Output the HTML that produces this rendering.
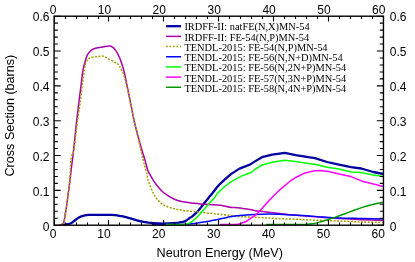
<!DOCTYPE html><html><head><meta charset="utf-8"><style>html,body{margin:0;padding:0;background:#fff;overflow:hidden}body{width:415px;height:262px;position:relative}</style></head><body><svg width="415" height="262" viewBox="0 0 415 262" style="position:absolute;left:0;top:0;will-change:transform">
<rect width="415" height="262" fill="#fff"/>
<clipPath id="c"><rect x="54.1" y="16.2" width="329.34999999999997" height="209.0"/></clipPath>
<g clip-path="url(#c)" fill="none" stroke-linejoin="round" stroke-linecap="butt">
<path d="M62.5,225.2 C62.8,225.1 63.2,225.1 64.5,224.8 C65.8,224.5 68.7,224.1 70.3,223.5 C71.9,222.9 72.7,222.0 74.1,221.0 C75.5,220.0 77.3,218.5 78.9,217.6 C80.5,216.7 81.8,216.1 83.6,215.7 C85.3,215.2 85.8,215.0 89.4,214.9 C93.0,214.8 101.2,214.9 105.0,214.9 C108.8,214.9 110.2,214.9 112.0,214.9 C113.8,215.0 114.7,215.1 116.0,215.2 C117.3,215.3 118.3,215.6 119.6,215.8 C120.9,216.1 122.4,216.3 124.0,216.7 C125.6,217.1 126.8,217.4 129.3,218.1 C131.8,218.8 135.7,220.0 138.9,220.8 C142.1,221.6 145.4,222.2 148.6,222.7 C151.8,223.1 155.0,223.4 158.2,223.5 C161.4,223.6 164.6,223.6 167.8,223.5 C171.0,223.4 175.3,223.1 177.5,222.9 C179.7,222.7 179.7,222.5 181.0,222.2 C182.3,221.9 184.0,221.7 185.5,220.9 C187.0,220.2 189.0,218.4 190.0,217.7 C191.0,217.0 190.4,217.8 191.6,216.8 C192.8,215.8 195.5,213.8 197.4,211.7 C199.3,209.6 201.3,206.9 203.2,204.5 C205.1,202.1 207.5,199.0 209.0,197.2 C210.5,195.4 210.6,195.5 212.0,193.8 C213.4,192.1 215.2,189.3 217.2,187.0 C219.2,184.7 222.9,181.2 224.1,180.1 L230.9,174.1 L239.5,168.6 L249.9,164.6 L255.0,161.4 L262.0,157.2 L272.2,154.7 L284.8,152.8 L295.7,155.2 L308.2,157.2 L315.0,158.1 L327.0,162.0 L339.0,164.6 L351.0,167.2 L361.3,168.5 L373.3,172.0 L383.4,174.0" stroke="#0000a0" stroke-width="2.3"/>
<path d="M59.5,225.2 C59.7,225.1 60.0,225.2 60.7,224.8 C61.4,224.4 62.9,224.3 63.6,222.9 C64.3,221.5 64.4,219.0 64.9,216.3 C65.4,213.6 66.0,210.2 66.5,206.7 C67.0,203.2 67.5,198.9 68.0,195.3 C68.5,191.7 68.9,189.3 69.4,185.0 C69.9,180.7 70.5,175.5 71.2,169.6 C71.9,163.7 72.8,157.2 73.6,149.8 C74.4,142.4 75.4,132.5 76.2,125.0 C77.0,117.5 77.8,111.4 78.6,104.7 C79.4,98.0 80.4,90.6 81.1,84.8 C81.8,79.0 82.3,73.9 83.0,70.1 C83.7,66.2 84.4,64.2 85.1,61.7 C85.8,59.2 86.4,56.9 87.3,55.2 C88.2,53.5 89.1,52.4 90.2,51.3 C91.3,50.2 92.0,49.4 93.8,48.7 C95.6,48.0 98.3,47.6 101.0,47.2 C103.7,46.8 107.8,46.1 109.7,46.1 C111.6,46.1 111.6,46.5 112.6,47.2 C113.6,47.9 114.5,48.8 115.5,50.1 C116.5,51.4 117.6,53.6 118.4,55.2 C119.2,56.9 119.6,57.5 120.5,60.0 C121.4,62.5 122.6,65.8 123.7,69.9 C124.8,74.0 125.9,79.8 126.9,84.8 C127.9,89.8 129.0,95.2 129.9,99.7 C130.8,104.2 131.6,108.3 132.4,112.1 C133.2,115.9 133.3,117.6 134.5,122.5 C135.7,127.4 137.8,135.5 139.5,141.7 C141.2,147.9 143.5,155.2 144.9,159.9 C146.3,164.6 146.8,167.4 147.7,170.0 C148.6,172.6 149.3,173.3 150.3,175.2 C151.3,177.1 152.7,179.4 153.8,181.2 C155.0,183.0 155.8,184.1 157.2,185.8 C158.6,187.5 160.6,189.9 162.3,191.5 C164.0,193.1 165.5,194.1 167.5,195.4 C169.5,196.7 171.8,198.1 174.4,199.2 C177.0,200.3 180.1,201.2 183.0,201.8 C185.9,202.4 188.8,202.7 191.6,203.0 C194.4,203.3 197.1,203.7 200.0,203.9 C202.9,204.2 205.6,204.3 209.0,204.5 C212.4,204.7 217.1,204.7 220.6,205.2 C224.1,205.7 226.8,206.8 230.0,207.3 C233.2,207.8 235.9,207.4 240.0,207.9 C244.1,208.5 249.7,209.7 254.5,210.4 C259.3,211.1 264.1,211.7 268.9,212.3 C273.7,212.9 278.2,213.4 283.4,214.0 C288.6,214.6 293.2,215.0 300.0,215.6 C306.8,216.2 317.2,217.0 323.9,217.5 C330.6,218.0 334.8,218.1 340.0,218.4 C345.2,218.7 351.2,219.0 355.0,219.2 C358.8,219.4 358.2,219.5 362.9,219.7 C367.6,219.9 380.0,220.4 383.4,220.5" stroke="#aa00aa" stroke-width="1.5"/>
<path d="M59.5,225.2 C59.7,225.1 60.0,225.2 60.7,224.8 C61.4,224.4 62.9,224.3 63.6,222.9 C64.3,221.5 64.4,219.0 64.9,216.3 C65.4,213.6 66.0,210.2 66.5,206.7 C67.0,203.2 67.5,198.9 68.0,195.3 C68.5,191.7 68.9,187.6 69.2,185.0 C69.5,182.4 69.7,182.1 69.9,179.5 C70.1,176.9 70.2,173.3 70.4,169.6 C70.6,165.9 70.6,160.5 71.2,157.2 C71.8,153.9 73.0,155.2 73.9,149.8 C74.9,144.4 75.9,132.5 76.9,125.0 C77.9,117.5 79.0,111.4 79.9,104.7 C80.8,98.0 81.7,90.6 82.4,84.8 C83.2,79.0 83.8,73.7 84.4,70.1 C85.0,66.5 85.2,64.9 85.8,63.1 C86.4,61.3 86.9,60.2 88.0,59.2 C89.1,58.2 90.6,57.7 92.3,57.3 C94.0,56.9 96.3,56.8 98.1,56.6 C99.9,56.4 101.5,55.8 103.2,56.2 C104.9,56.6 106.5,57.9 108.3,58.8 C110.1,59.7 112.5,60.9 114.0,61.7 C115.5,62.6 116.6,63.1 117.6,63.9 C118.6,64.7 119.1,65.7 119.8,66.7 C120.5,67.7 120.9,68.7 121.6,70.1 C122.2,71.5 122.9,72.7 123.7,74.9 C124.5,77.2 125.2,79.5 126.2,83.6 C127.2,87.7 128.9,95.0 129.9,99.7 C130.9,104.5 131.6,108.3 132.4,112.1 C133.2,115.9 133.3,117.3 134.5,122.5 C135.7,127.7 137.9,136.8 139.3,143.0 C140.7,149.2 142.0,155.4 143.1,159.9 C144.2,164.4 145.2,166.9 146.0,170.0 C146.8,173.1 147.0,175.9 147.7,178.6 C148.4,181.3 149.3,183.7 150.3,186.3 C151.3,188.9 152.7,191.9 153.8,194.1 C155.0,196.2 155.9,197.6 157.2,199.2 C158.5,200.8 160.1,202.3 161.5,203.5 C162.9,204.7 163.7,205.2 165.8,206.1 C168.0,207.0 171.5,208.0 174.4,208.7 C177.3,209.4 180.1,210.0 183.0,210.4 C185.9,210.8 189.3,211.1 191.6,211.3 C193.9,211.5 193.8,211.5 196.7,211.8 C199.6,212.1 203.4,212.6 209.0,213.2 C214.6,213.8 224.8,214.8 230.0,215.4 C235.2,216.0 235.9,216.3 240.0,216.6 C244.1,216.9 249.7,217.1 254.5,217.3 C259.3,217.6 264.1,217.8 268.9,218.1 C273.7,218.3 278.2,218.6 283.4,218.8 C288.6,219.0 295.6,219.2 300.0,219.4 C304.4,219.6 305.5,219.8 309.5,220.0 C313.5,220.2 318.8,220.3 323.9,220.5 C329.0,220.7 334.8,220.8 340.0,221.0 C345.2,221.2 351.2,221.5 355.0,221.7 C358.8,221.9 358.2,221.9 362.9,222.0 C367.6,222.1 380.0,222.4 383.4,222.5" stroke="#a0a000" stroke-width="1.5" stroke-dasharray="2.0,1.43"/>
<path d="M153.0,224.5 C157.5,224.5 174.3,224.5 180.0,224.4 C185.7,224.3 184.8,224.3 187.2,224.1 C189.6,223.9 190.9,223.9 194.5,223.4 C198.1,222.9 204.2,222.0 209.0,221.2 C213.8,220.3 220.0,219.0 223.5,218.3 C227.0,217.6 227.2,217.2 230.0,216.8 C232.8,216.4 235.9,216.0 240.0,215.6 C244.1,215.2 249.7,214.8 254.5,214.5 C259.3,214.2 264.1,214.0 268.9,214.0 C273.7,214.0 278.2,214.3 283.4,214.5 C288.6,214.7 295.6,215.2 300.0,215.4 C304.4,215.6 305.5,215.6 309.5,215.9 C313.5,216.2 319.1,216.8 323.9,217.1 C328.7,217.4 333.2,217.7 338.4,217.9 C343.6,218.1 350.9,218.2 355.0,218.3 C359.1,218.4 358.2,218.4 362.9,218.5 C367.6,218.6 380.0,218.9 383.4,219.0" stroke="#0000ff" stroke-width="1.5"/>
<path d="M166.0,224.5 C169.0,224.5 180.5,224.5 184.0,224.4 C187.5,224.3 185.9,224.2 187.2,223.8 C188.5,223.4 189.9,223.1 191.6,221.9 C193.3,220.7 195.5,218.7 197.4,216.8 C199.3,214.9 201.3,212.5 203.2,210.3 C205.1,208.1 207.1,206.0 209.0,203.8 C210.9,201.6 213.4,198.9 214.8,197.2 C216.2,195.5 215.6,195.5 217.2,193.8 C218.8,192.1 222.9,188.1 224.1,187.0 L230.9,181.8 L241.3,176.1 L251.6,172.3 L255.0,169.3 L262.0,165.0 L272.2,162.2 L284.8,160.2 L295.7,161.4 L308.2,163.5 L315.0,164.2 L327.0,167.2 L339.0,168.9 L351.0,172.0 L361.3,172.6 L373.3,174.9 L383.4,176.6" stroke="#00ff00" stroke-width="1.5"/>
<path d="M220.0,224.5 C222.7,224.5 232.7,224.5 236.0,224.4 C239.3,224.3 238.5,224.1 240.0,223.7 C241.5,223.3 243.3,222.8 245.0,222.0 C246.7,221.2 248.2,220.0 250.0,218.8 C251.8,217.6 254.0,216.3 256.0,214.6 C258.0,212.9 259.6,211.2 261.9,208.7 C264.2,206.2 266.8,203.0 269.8,199.8 C272.8,196.7 276.9,192.5 279.8,189.8 C282.7,187.1 285.5,185.2 287.1,183.8 C288.8,182.4 288.3,182.6 289.7,181.5 C291.1,180.4 294.6,178.2 295.6,177.5 L305.1,172.9 L314.5,170.8 L320.1,170.4 L328.7,171.4 L339.0,174.0 L351.0,176.6 L361.3,180.9 L373.3,184.0 L383.4,186.4" stroke="#ff00ff" stroke-width="1.5"/>
<path d="M266.0,224.5 C271.7,224.5 293.2,224.5 300.0,224.5 C306.8,224.5 304.3,224.5 306.6,224.3 C308.9,224.2 311.4,224.0 313.8,223.6 C316.2,223.2 318.6,222.4 321.0,221.7 C323.4,221.0 325.9,220.3 328.3,219.5 C330.7,218.7 333.1,217.9 335.5,217.1 C337.9,216.3 340.3,215.4 342.7,214.5 C345.1,213.6 347.8,212.7 349.9,211.9 C352.0,211.1 353.0,210.6 355.2,209.8 C357.4,209.0 360.3,207.9 362.9,207.1 C365.4,206.3 368.0,205.5 370.5,204.9 C373.0,204.3 376.0,203.8 378.1,203.3 C380.2,202.9 382.5,202.4 383.4,202.2" stroke="#009900" stroke-width="1.5"/>
</g>
<path d="M54.50,225.2v-5.2M54.50,16.2v5.2M65.50,225.2v-2.8M65.50,16.2v2.8M76.50,225.2v-2.8M76.50,16.2v2.8M87.50,225.2v-2.8M87.50,16.2v2.8M98.50,225.2v-2.8M98.50,16.2v2.8M108.50,225.2v-5.2M108.50,16.2v5.2M119.50,225.2v-2.8M119.50,16.2v2.8M130.50,225.2v-2.8M130.50,16.2v2.8M141.50,225.2v-2.8M141.50,16.2v2.8M152.50,225.2v-2.8M152.50,16.2v2.8M163.50,225.2v-5.2M163.50,16.2v5.2M174.50,225.2v-2.8M174.50,16.2v2.8M185.50,225.2v-2.8M185.50,16.2v2.8M196.50,225.2v-2.8M196.50,16.2v2.8M207.50,225.2v-2.8M207.50,16.2v2.8M218.50,225.2v-5.2M218.50,16.2v5.2M229.50,225.2v-2.8M229.50,16.2v2.8M240.50,225.2v-2.8M240.50,16.2v2.8M251.50,225.2v-2.8M251.50,16.2v2.8M262.50,225.2v-2.8M262.50,16.2v2.8M273.50,225.2v-5.2M273.50,16.2v5.2M284.50,225.2v-2.8M284.50,16.2v2.8M295.50,225.2v-2.8M295.50,16.2v2.8M306.50,225.2v-2.8M306.50,16.2v2.8M317.50,225.2v-2.8M317.50,16.2v2.8M328.50,225.2v-5.2M328.50,16.2v5.2M339.50,225.2v-2.8M339.50,16.2v2.8M350.50,225.2v-2.8M350.50,16.2v2.8M361.50,225.2v-2.8M361.50,16.2v2.8M372.50,225.2v-2.8M372.50,16.2v2.8M383.50,225.2v-5.2M383.50,16.2v5.2M54.1,225.20h6.6M383.45,225.20h-6.6M54.1,218.23h3.7M383.45,218.23h-3.7M54.1,211.27h3.7M383.45,211.27h-3.7M54.1,204.30h3.7M383.45,204.30h-3.7M54.1,197.33h3.7M383.45,197.33h-3.7M54.1,190.37h6.6M383.45,190.37h-6.6M54.1,183.40h3.7M383.45,183.40h-3.7M54.1,176.43h3.7M383.45,176.43h-3.7M54.1,169.47h3.7M383.45,169.47h-3.7M54.1,162.50h3.7M383.45,162.50h-3.7M54.1,155.53h6.6M383.45,155.53h-6.6M54.1,148.57h3.7M383.45,148.57h-3.7M54.1,141.60h3.7M383.45,141.60h-3.7M54.1,134.63h3.7M383.45,134.63h-3.7M54.1,127.67h3.7M383.45,127.67h-3.7M54.1,120.70h6.6M383.45,120.70h-6.6M54.1,113.73h3.7M383.45,113.73h-3.7M54.1,106.77h3.7M383.45,106.77h-3.7M54.1,99.80h3.7M383.45,99.80h-3.7M54.1,92.83h3.7M383.45,92.83h-3.7M54.1,85.87h6.6M383.45,85.87h-6.6M54.1,78.90h3.7M383.45,78.90h-3.7M54.1,71.93h3.7M383.45,71.93h-3.7M54.1,64.97h3.7M383.45,64.97h-3.7M54.1,58.00h3.7M383.45,58.00h-3.7M54.1,51.03h6.6M383.45,51.03h-6.6M54.1,44.07h3.7M383.45,44.07h-3.7M54.1,37.10h3.7M383.45,37.10h-3.7M54.1,30.13h3.7M383.45,30.13h-3.7M54.1,23.17h3.7M383.45,23.17h-3.7M54.1,16.20h6.6M383.45,16.20h-6.6" stroke="#000" stroke-width="1.1" fill="none"/>
<rect x="54.1" y="16.2" width="329.34999999999997" height="209.0" fill="none" stroke="#000" stroke-width="1.4"/>
<g font-family="Liberation Sans, sans-serif" font-size="12" fill="#000">
<text x="53.0" y="14.2" text-anchor="middle">0</text>
<text x="53.0" y="237.6" text-anchor="middle">0</text>
<text x="104.4" y="14.2" text-anchor="middle">10</text>
<text x="103.9" y="237.6" text-anchor="middle">10</text>
<text x="159.3" y="14.2" text-anchor="middle">20</text>
<text x="158.8" y="237.6" text-anchor="middle">20</text>
<text x="214.2" y="14.2" text-anchor="middle">30</text>
<text x="213.7" y="237.6" text-anchor="middle">30</text>
<text x="269.1" y="14.2" text-anchor="middle">40</text>
<text x="268.6" y="237.6" text-anchor="middle">40</text>
<text x="324.0" y="14.2" text-anchor="middle">50</text>
<text x="323.5" y="237.6" text-anchor="middle">50</text>
<text x="378.8" y="14.2" text-anchor="middle">60</text>
<text x="378.3" y="237.6" text-anchor="middle">60</text>
<text x="49.4" y="230.9" text-anchor="end">0</text>
<text x="389.8" y="230.9">0</text>
<text x="49.4" y="195.5" text-anchor="end">0.1</text>
<text x="389.8" y="195.5">0.1</text>
<text x="49.4" y="160.6" text-anchor="end">0.2</text>
<text x="389.8" y="160.6">0.2</text>
<text x="49.4" y="125.8" text-anchor="end">0.3</text>
<text x="389.8" y="125.8">0.3</text>
<text x="49.4" y="91.0" text-anchor="end">0.4</text>
<text x="389.8" y="91.0">0.4</text>
<text x="49.4" y="56.1" text-anchor="end">0.5</text>
<text x="389.8" y="56.1">0.5</text>
<text x="49.4" y="21.3" text-anchor="end">0.6</text>
<text x="389.8" y="21.3">0.6</text>
</g>
<g font-family="Liberation Sans, sans-serif" font-size="12.6" fill="#000">
<text x="156.5" y="257" font-size="12.65">Neutron Energy (MeV)</text>
<text transform="translate(13.8,176.5) rotate(-90)">Cross Section (barns)</text>
</g>
<g font-family="Liberation Serif, serif" font-size="10.4" fill="#000">
<path d="M166.1,26.20H181.1" stroke="#0000a0" stroke-width="2.3"/>
<text x="184.4" y="29.6">IRDFF-II: natFE(N,X)MN-54</text>
<path d="M166.1,36.38H181.1" stroke="#aa00aa" stroke-width="1.5"/>
<text x="184.4" y="41.3">IRDFF-II: FE-54(N,P)MN-54</text>
<path d="M166.1,46.56H181.1" stroke="#a0a000" stroke-width="1.5" stroke-dasharray="1.7,1.73"/>
<text x="184.4" y="51.3">TENDL-2015: FE-54(N,P)MN-54</text>
<path d="M166.1,56.74H181.1" stroke="#0000ff" stroke-width="1.5"/>
<text x="184.4" y="61.3">TENDL-2015: FE-56(N,N+D)MN-54</text>
<path d="M166.1,66.92H181.1" stroke="#00ff00" stroke-width="1.5"/>
<text x="184.4" y="71.4">TENDL-2015: FE-56(N,2N+P)MN-54</text>
<path d="M166.1,77.10H181.1" stroke="#ff00ff" stroke-width="1.5"/>
<text x="184.4" y="81.6">TENDL-2015: FE-57(N,3N+P)MN-54</text>
<path d="M166.1,87.28H181.1" stroke="#009900" stroke-width="1.5"/>
<text x="184.4" y="91.7">TENDL-2015: FE-58(N,4N+P)MN-54</text>
</g>
</svg></body></html>
